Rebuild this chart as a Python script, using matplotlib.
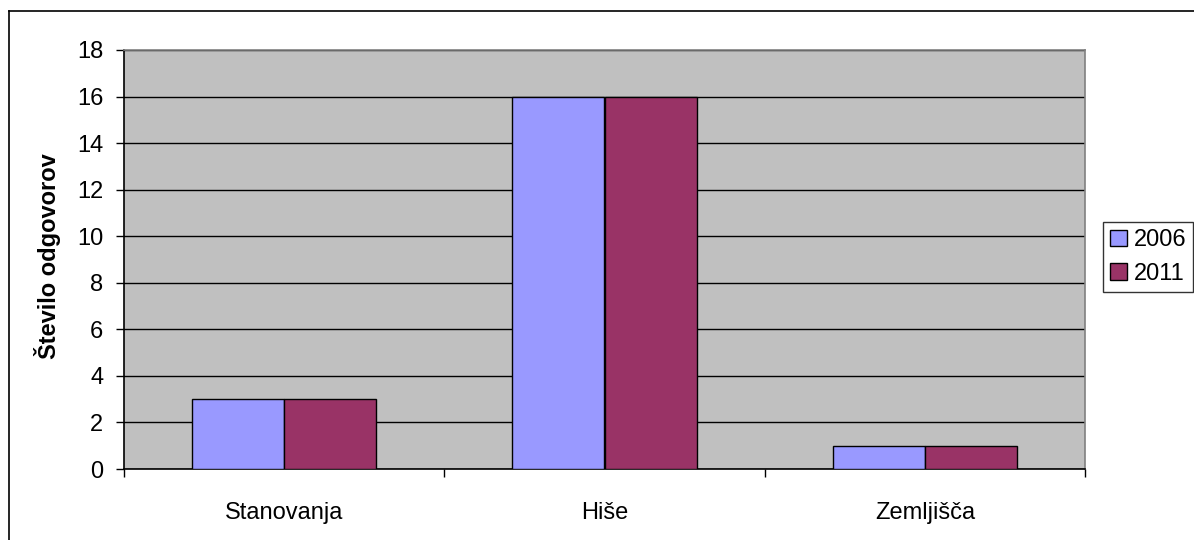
import numpy as np
import matplotlib
matplotlib.use("Agg")
import matplotlib.pyplot as plt
from matplotlib.lines import Line2D
from matplotlib.patches import Patch

categories = ["Stanovanja", "Hiše", "Zemljišča"]
years = ["2006", "2011"]
vals_2006 = [3, 16, 1]
vals_2011 = [3, 16, 1]
colors = ["#9999FF", "#993366"]

plt.rcParams["font.family"] = ["Liberation Sans", "DejaVu Sans"]

W, H = 1194, 540
fig = plt.figure(figsize=(W / 100, H / 100), dpi=100)
ax = fig.add_axes([124 / W, 1 - 469 / H, (1085 - 124) / W, (469 - 50) / H])
ax.set_facecolor("#C0C0C0")

x = np.arange(len(categories))
bw = 0.2875
ax.bar(x - bw / 2, vals_2006, bw, color=colors[0], edgecolor="black", linewidth=1, zorder=3)
ax.bar(x + bw / 2, vals_2011, bw, color=colors[1], edgecolor="black", linewidth=1, zorder=3)

ax.set_xlim(-0.5, len(categories) - 0.5)
ax.set_ylim(0, 18)
ax.set_yticks(range(0, 19, 2))
ax.yaxis.grid(True, color="black", linewidth=1, zorder=0)
ax.set_axisbelow(True)

ax.set_xticks(x)
ax.set_xticklabels(categories, fontsize=17)
ax.set_xticks(np.arange(-0.5, len(categories)), minor=True)
ax.tick_params(axis="x", which="major", length=0, pad=24)
ax.tick_params(axis="x", which="minor", length=6, width=1, direction="out")
ax.tick_params(axis="y", labelsize=17, length=6, width=1, direction="out", pad=9)

ax.spines["left"].set_color("black")
ax.spines["bottom"].set_color("black")
ax.spines["top"].set_color("#808080")
ax.spines["right"].set_color("#808080")
for s in ax.spines.values():
    s.set_linewidth(1.2)

fig.text(48 / W, 1 - 256 / H, "Število odgovorov", rotation=90, ha="center", va="center",
         fontsize=17, fontweight="bold")

handles = [Patch(facecolor=c, edgecolor="black", linewidth=1) for c in colors]
leg = fig.legend(handles, years, loc="upper left", bbox_to_anchor=(1103 / W, 1 - 222 / H),
                 fontsize=17, frameon=True, fancybox=False, edgecolor="black",
                 borderpad=0.3, handlelength=0.7, handleheight=0.7, handletextpad=0.3,
                 labelspacing=0.5, borderaxespad=0)
leg.get_frame().set_linewidth(1)

# outer chart border (top and left visible)
fig.add_artist(Line2D([9 / W, 9 / W], [0, 1 - 10.5 / H], color="black", linewidth=1.2,
                      transform=fig.transFigure))
fig.add_artist(Line2D([9 / W, 1], [1 - 10.5 / H, 1 - 10.5 / H], color="black", linewidth=1.2,
                      transform=fig.transFigure))

fig.savefig("out.png", dpi=100)
